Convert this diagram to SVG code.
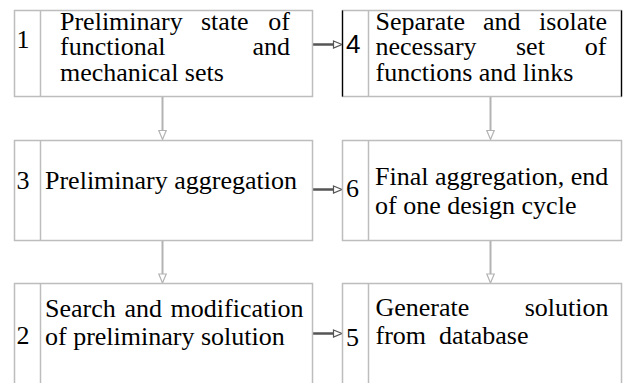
<svg xmlns="http://www.w3.org/2000/svg" width="623" height="383" viewBox="0 0 623 383">
<style>
.box{fill:#fff;stroke:#bdbdbd;stroke-width:1.5}
.div{stroke:#bdbdbd;stroke-width:1.5}
.t{font-family:"Liberation Serif","Times New Roman",serif;font-size:26px;fill:#000}
.e{text-anchor:end}
.s{font-family:"Liberation Sans",Arial,sans-serif;font-size:26px;fill:#000}
.v{stroke:#b3b3b3;stroke-width:2;fill:none}
.vh{fill:#fff;stroke:#b3b3b3;stroke-width:1.2}
.h{stroke:#555;stroke-width:2.5;fill:none}
.hh{fill:#fff;stroke:#555;stroke-width:1.2}
</style>
<g id="connectors">
<line class="v" x1="162.5" y1="97" x2="162.5" y2="131"/>
<path class="vh" d="M158.8,130.5 L166.2,130.5 L162.5,139.5 Z"/>
<line class="v" x1="162.5" y1="241" x2="162.5" y2="274"/>
<path class="vh" d="M158.8,274 L166.2,274 L162.5,283 Z"/>
<line class="v" x1="490.5" y1="97" x2="490.5" y2="131"/>
<path class="vh" d="M486.8,130.5 L494.2,130.5 L490.5,139.5 Z"/>
<line class="v" x1="490.5" y1="241" x2="490.5" y2="274"/>
<path class="vh" d="M486.8,274 L494.2,274 L490.5,283 Z"/>
<line class="h" x1="312.5" y1="44.5" x2="334" y2="44.5"/>
<path class="hh" d="M333.5,41 L342,44.5 L333.5,48 Z"/>
<line class="h" x1="312.5" y1="189.5" x2="334" y2="189.5"/>
<path class="hh" d="M333.5,186 L342,189.5 L333.5,193 Z"/>
<line class="h" x1="312.5" y1="333.5" x2="334" y2="333.5"/>
<path class="hh" d="M333.5,330 L342,333.5 L333.5,337 Z"/>
</g>
<g id="node1">
<rect class="box" x="14.5" y="10.5" width="298" height="86"/>
<line class="div" x1="40.5" y1="10.5" x2="40.5" y2="96.5"/>
<text class="t" x="16.5" y="48">1</text>
<text class="t"><tspan x="60" y="29.5">Preliminary</tspan><tspan x="201" y="29.5">state</tspan><tspan x="268.3" y="29.5">of</tspan><tspan x="60" y="55">functional</tspan><tspan x="252.5" y="55">and</tspan><tspan x="60" y="80.5">mechanical sets</tspan></text>
</g>
<g id="node4">
<rect class="box" x="342.5" y="10.5" width="279" height="86"/>
<line class="div" x1="368.5" y1="10.5" x2="368.5" y2="96.5"/>
<line x1="342.5" y1="10.5" x2="342.5" y2="96.5" stroke="#000" stroke-width="1.3"/>
<line x1="621.5" y1="10.5" x2="621.5" y2="96.5" stroke="#000" stroke-width="1.3"/>
<text class="s" x="346" y="53">4</text>
<text class="t"><tspan x="375.5" y="29.5">Separate</tspan><tspan x="483" y="29.5">and</tspan><tspan x="539.1" y="29.5">isolate</tspan><tspan x="375.5" y="55">necessary</tspan><tspan x="516" y="55">set</tspan><tspan x="584.8" y="55">of</tspan><tspan x="375.5" y="81">functions and links</tspan></text>
</g>
<g id="node3">
<rect class="box" x="14.5" y="140.5" width="298" height="100"/>
<line class="div" x1="40.5" y1="140.5" x2="40.5" y2="240.5"/>
<text class="t" x="16.5" y="189">3</text>
<text class="t" x="45" y="189">Preliminary aggregation</text>
</g>
<g id="node6">
<rect class="box" x="342.5" y="140.5" width="279" height="100"/>
<line class="div" x1="368.5" y1="140.5" x2="368.5" y2="240.5"/>
<text class="t" x="346" y="197">6</text>
<text class="t"><tspan x="375" y="185">Final aggregation, end</tspan><tspan x="375" y="214">of one design cycle</tspan></text>
</g>
<g id="node2">
<rect class="box" x="14.5" y="283.5" width="298" height="120"/>
<line class="div" x1="40.5" y1="283.5" x2="40.5" y2="403.5"/>
<text class="t" x="16.5" y="344">2</text>
<text class="t"><tspan x="45" y="316.5">Search</tspan><tspan x="124.5" y="316.5">and</tspan><tspan x="170.6" y="316.5">modification</tspan><tspan x="45" y="345">of preliminary solution</tspan></text>
</g>
<g id="node5">
<rect class="box" x="342.5" y="283.5" width="279" height="120"/>
<line class="div" x1="368.5" y1="283.5" x2="368.5" y2="403.5"/>
<text class="t" x="346" y="346">5</text>
<text class="t"><tspan x="375.5" y="316">Generate</tspan><tspan x="524.7" y="316">solution</tspan><tspan x="375.5" y="344">from</tspan><tspan x="439" y="344">database</tspan></text>
</g>
</svg>
